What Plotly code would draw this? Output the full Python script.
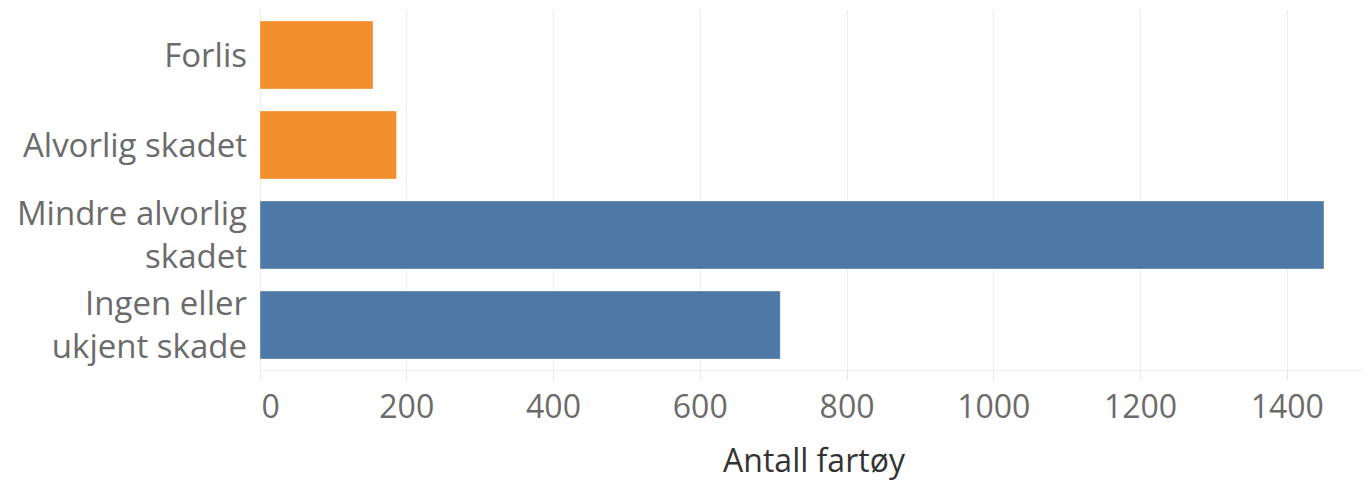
import plotly.graph_objects as go

categories = ["Forlis", "Alvorlig skadet", "Mindre alvorlig<br>skadet", "Ingen eller<br>ukjent skade"]
values = [154, 186, 1450, 709]
colors = ["#F28E2B", "#F28E2B", "#4E79A7", "#4E79A7"]
tick_vals = [0, 200, 400, 600, 800, 1000, 1200, 1400]
tick_text = ["\u2002\u20090", "200", "400", "600", "800", "1000", "1200", "1400"]

fig = go.Figure(go.Bar(
    x=values, y=categories, orientation="h",
    marker=dict(color=colors, line=dict(color="rgba(255,255,255,0.35)", width=1)),
    width=0.756,
))

fig.update_layout(
    width=1370, height=482,
    margin=dict(l=252, r=10, t=2, b=120),
    plot_bgcolor="white", paper_bgcolor="white",
    showlegend=False,
    font=dict(family="Open Sans", color="#6b6b6b", size=30),
)
fig.update_yaxes(
    autorange="reversed", showgrid=False, ticks="", ticklabelstandoff=12,
    showline=False, automargin=False, tickfont=dict(size=33, color="#6b6b6b"),
)
fig.update_xaxes(
    range=[0, 1510], tickvals=tick_vals, ticktext=tick_text,
    showgrid=True, gridcolor="#ececec", gridwidth=1,
    ticks="outside", ticklen=9, tickcolor="#e6e6e6", showline=True, linecolor="#ececec",
    zeroline=True, zerolinecolor="#ececec", zerolinewidth=1, automargin=False,
    tickfont=dict(size=32, color="#6b6b6b"),
    title=dict(text="Antall fartøy", font=dict(family="Open Sans", size=32, color="#333333"), standoff=23),
)

fig.write_html("out.html")
